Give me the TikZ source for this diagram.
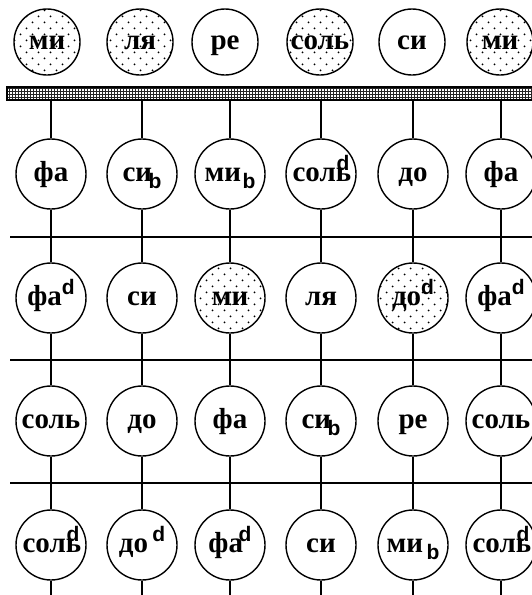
\documentclass[tikz,border=0pt]{standalone}
\usepackage{fontspec}
\setmainfont{Liberation Serif}
\newfontfamily\supfont{Liberation Sans}
\usetikzlibrary{patterns}

\pgfdeclarepatternformonly{sparsedots}{\pgfpoint{-1pt}{-1pt}}{\pgfpoint{13pt}{13pt}}{\pgfpoint{12pt}{12pt}}{%
  \pgfpathcircle{\pgfpoint{2.5pt}{2.5pt}}{1pt}%
  \pgfpathcircle{\pgfpoint{8.5pt}{8.5pt}}{1pt}%
  \pgfusepath{fill}%
}
\pgfdeclarepatternformonly{barhatch}{\pgfpoint{-1pt}{-1pt}}{\pgfpoint{4pt}{4pt}}{\pgfpoint{3pt}{3pt}}{%
  \pgfsetlinewidth{0.7pt}%
  \pgfpathmoveto{\pgfpoint{0pt}{0pt}}\pgfpathlineto{\pgfpoint{3.05pt}{0pt}}%
  \pgfpathmoveto{\pgfpoint{0pt}{0pt}}\pgfpathlineto{\pgfpoint{0pt}{3.05pt}}%
  \pgfusepath{stroke}%
}

\newcommand\supsz{\supfont\fontsize{21}{21}\selectfont}
\newcommand\up[1]{\raisebox{0.37em}{\supsz #1}}
\newcommand\dn[1]{\raisebox{-0.25em}{\supsz #1}}

\begin{document}
\begin{tikzpicture}[x=1pt,y=-1pt,
  note/.style={circle, draw, line width=1.4pt, minimum size=70pt, inner sep=0pt,
    text height=14pt, text depth=0pt,
    font=\bfseries\fontsize{29}{29}\selectfont},
  topnote/.style={note, minimum size=66pt},
  speckled/.style={pattern=sparsedots, pattern color=black},
  barstyle/.style={draw, line width=1.4pt, pattern=barhatch, pattern color=black!85,
    minimum width=527pt, minimum height=13pt, inner sep=0pt},
  wire/.style={line width=1.4pt},
]
\clip (0,0) rectangle (532,595);

% top row
\node[topnote, speckled] (t1) at (47,42) {ми};
\node[topnote, speckled] (t2) at (140,42) {ля};
\node[topnote] (t3) at (225,42) {ре};
\node[topnote, speckled] (t4) at (320,42) {соль};
\node[topnote] (t5) at (412,42) {си};
\node[topnote, speckled] (t6) at (500,42) {ми};

% bar
\node[barstyle] (bar) at (270.5,93.5) {};

% horizontal lines
\coordinate (h1a) at (10,237); \coordinate (h1b) at (532,237);
\coordinate (h2a) at (10,360); \coordinate (h2b) at (532,360);
\coordinate (h3a) at (10,483); \coordinate (h3b) at (532,483);
\draw[wire] (h1a) -- (h1b);
\draw[wire] (h2a) -- (h2b);
\draw[wire] (h3a) -- (h3b);

% row 2
\node[note] (n21) at (51,174) {фа};
\node[note] (n22) at (142,174) {си\kern-0.12em\dn{b}};
\node[note] (n23) at (230,174) {ми\kern0.05em\dn{b}};
\node[note] (n24) at (321,174) {соль\kern-0.5em\up{d}};
\node[note] (n25) at (413,174) {до};
\node[note] (n26) at (501,174) {фа};

% row 3
\node[note] (n31) at (51,298) {фа\up{d}};
\node[note] (n32) at (142,298) {си};
\node[note, speckled] (n33) at (230,298) {ми};
\node[note] (n34) at (321,298) {ля};
\node[note, speckled] (n35) at (413,298) {до\up{d}};
\node[note] (n36) at (501,298) {фа\up{d}};

% row 4
\node[note] (n41) at (51,421) {соль};
\node[note] (n42) at (142,421) {до};
\node[note] (n43) at (230,421) {фа};
\node[note] (n44) at (321,421) {си\kern-0.12em\dn{b}};
\node[note] (n45) at (413,421) {ре};
\node[note] (n46) at (501,421) {соль};

% row 5
\node[note] (n51) at (51,545) {соль\kern-0.5em\up{d}};
\node[note] (n52) at (142,545) {до\kern0.15em\up{d}};
\node[note] (n53) at (230,545) {фа\kern-0.15em\up{d}};
\node[note] (n54) at (321,545) {си};
\node[note] (n55) at (413,545) {ми\kern0.12em\dn{b}};
\node[note] (n56) at (501,545) {соль\kern-0.5em\up{d}};

% bottom free ends
\coordinate (e1) at (51,600);
\coordinate (e2) at (142,600);
\coordinate (e3) at (230,600);
\coordinate (e4) at (321,600);
\coordinate (e5) at (413,600);
\coordinate (e6) at (501,600);

\foreach \c in {1,...,6}{
  \draw[wire] (n2\c.north |- bar.south) -- (n2\c);
  \draw[wire] (n2\c) -- (n3\c);
  \draw[wire] (n3\c) -- (n4\c);
  \draw[wire] (n4\c) -- (n5\c);
  \draw[wire] (n5\c) -- (e\c);
}
\end{tikzpicture}
\end{document}
